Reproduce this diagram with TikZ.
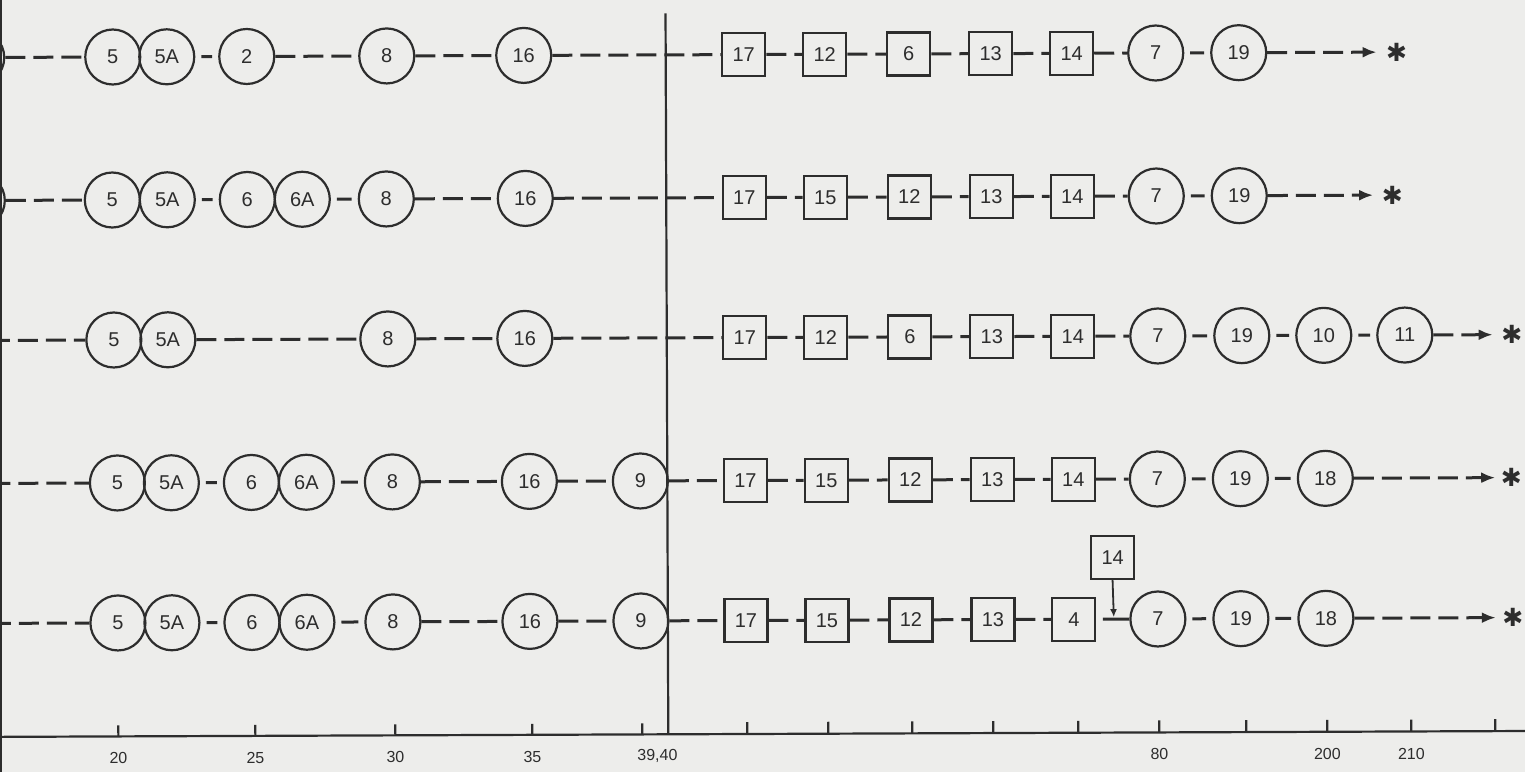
\documentclass[tikz,border=0pt]{standalone}
\usepackage{fontspec}
\setmainfont{Liberation Sans}
\newfontfamily\symfont{DejaVu Sans}
\usetikzlibrary{arrows.meta}
\definecolor{paper}{RGB}{237,237,235}
\definecolor{ink}{RGB}{45,45,45}
\newcommand{\starmark}{{\symfont ✱}}
\begin{document}
\begin{tikzpicture}[x=0.5pt,y=-0.5pt,
  cnode/.style={circle, draw=ink, line width=1.1pt, minimum size=27.5pt, inner sep=0pt,
    text=ink, font=\fontsize{10}{12}\selectfont},
  bnode/.style={rectangle, draw=ink, line width=1.1pt, minimum width=21.5pt, minimum height=21.5pt,
    inner sep=0pt, text=ink, font=\fontsize{10}{12}\selectfont},
  link/.style={draw=ink, line width=1.5pt, dash pattern=on 10pt off 4pt},
  single/.style={draw=ink, line width=1.5pt, shorten <=3pt, shorten >=3pt},
  flow/.style={link, -{Latex[length=7pt,width=5.5pt]}},
  drop/.style={draw=ink, line width=0.9pt, -{Latex[length=4pt,width=3.5pt]}},
  astmark/.style={text=ink, inner sep=0pt, font=\fontsize{12.5}{14}\selectfont},
  axislab/.style={text=ink, font=\fontsize{8}{10}\selectfont},
  rule/.style={draw=ink, line width=1.1pt}]
\fill[paper] (0,0) rectangle (1525,772);
\useasboundingbox (0,0) rectangle (1525,772);
\clip (0,0) rectangle (1525,772);

% frame edge at left
\draw[rule, line width=1.3pt] (1,0) -- (1,772);

\begin{scope}[rotate around={0.22:(762,386)}]
% axis and vertical divider
\coordinate (axL) at (-10,734);
\coordinate (axR) at (1535,734);
\draw[rule] (axL) -- (axR);
\coordinate (vtop) at (667,13);
\coordinate (vbot) at (667,734);
\draw[rule] (vtop) -- (vbot);
\foreach \x/\lab in {117/20, 254/25, 394/30, 531/35}{
  \draw[rule] (\x,734) -- (\x,723);
  \node[axislab] at (\x,756) {\lab};
}
\draw[rule] (641,734) -- (641,723);
\node[axislab] at (656,756) {39,40};
\foreach \x in {746,827,911,992,1077,1245,1494}{
  \draw[rule] (\x,734) -- (\x,722);
}
\foreach \x/\lab in {1158/80, 1326/200, 1410/210}{
  \draw[rule] (\x,734) -- (\x,722);
  \node[axislab] at (\x,756) {\lab};
}

% ---------------- Row 1 ----------------
\node[cnode] (r1p) at (-22,54.5) {};
\node[cnode] (r1a) at (114,54.5) {5};
\node[cnode] (r1b) at (168,54.5) {5A};
\node[cnode] (r1c) at (248,54.5) {2};
\node[cnode] (r1d) at (388,54.5) {8};
\node[cnode] (r1e) at (525,54.5) {16};
\node[bnode] (r1f) at (745,54.5) {17};
\node[bnode] (r1g) at (826,54.5) {12};
\node[bnode] (r1h) at (910,54.5) {6};
\node[bnode] (r1i) at (992,54.5) {13};
\node[bnode] (r1j) at (1073,54.5) {14};
\node[cnode] (r1k) at (1157,54.5) {7};
\node[cnode] (r1l) at (1240,54.5) {19};
\coordinate (r1end) at (1378,54.5);
\node[astmark] (r1x) at (1398,54.5) {\starmark};
\draw[link] (r1p) -- (r1a);
\draw[single] (r1b) -- (r1c);
\draw[link] (r1c) -- (r1d);
\draw[link] (r1d) -- (r1e);
\draw[link] (r1e) -- (r1f);
\draw[link] (r1f) -- (r1g);
\draw[link] (r1g) -- (r1h);
\draw[link] (r1h) -- (r1i);
\draw[link] (r1i) -- (r1j);
\draw[link] (r1j) -- (r1k);
\draw[single] (r1k) -- (r1l);
\draw[flow] (r1l) -- (r1end);

% ---------------- Row 2 ----------------
\node[cnode] (r2p) at (-22,197.5) {};
\node[cnode] (r2a) at (113,197.5) {5};
\node[cnode] (r2b) at (168,197.5) {5A};
\node[cnode] (r2c) at (248,197.5) {6};
\node[cnode] (r2d) at (303,197.5) {6A};
\node[cnode] (r2e) at (387,197.5) {8};
\node[cnode] (r2f) at (526,197.5) {16};
\node[bnode] (r2g) at (745,197.5) {17};
\node[bnode] (r2h) at (826,197.5) {15};
\node[bnode] (r2i) at (910,197.5) {12};
\node[bnode] (r2j) at (992,197.5) {13};
\node[bnode] (r2k) at (1073,197.5) {14};
\node[cnode] (r2l) at (1157,197.5) {7};
\node[cnode] (r2m) at (1240,197.5) {19};
\coordinate (r2end) at (1374,197.5);
\node[astmark] (r2x) at (1393,197.5) {\starmark};
\draw[link] (r2p) -- (r2a);
\draw[single] (r2b) -- (r2c);
\draw[single] (r2d) -- (r2e);
\draw[link] (r2e) -- (r2f);
\draw[link] (r2f) -- (r2g);
\draw[link] (r2g) -- (r2h);
\draw[link] (r2h) -- (r2i);
\draw[link] (r2i) -- (r2j);
\draw[link] (r2j) -- (r2k);
\draw[link] (r2k) -- (r2l);
\draw[single] (r2l) -- (r2m);
\draw[flow] (r2m) -- (r2end);

% ---------------- Row 3 ----------------
\coordinate (r3s) at (-10,337.5);
\node[cnode] (r3a) at (114,337.5) {5};
\node[cnode] (r3b) at (168,337.5) {5A};
\node[cnode] (r3c) at (388,337.5) {8};
\node[cnode] (r3d) at (525,337.5) {16};
\node[bnode] (r3e) at (745,337.5) {17};
\node[bnode] (r3f) at (826,337.5) {12};
\node[bnode] (r3g) at (910,337.5) {6};
\node[bnode] (r3h) at (992,337.5) {13};
\node[bnode] (r3i) at (1073,337.5) {14};
\node[cnode] (r3j) at (1158,337.5) {7};
\node[cnode] (r3k) at (1242,337.5) {19};
\node[cnode] (r3l) at (1324,337.5) {10};
\node[cnode] (r3m) at (1405,337.5) {11};
\coordinate (r3end) at (1493,337.5);
\node[astmark] (r3x) at (1512,337.5) {\starmark};
\draw[link] (r3s) -- (r3a);
\draw[link] (r3b) -- (r3c);
\draw[link] (r3c) -- (r3d);
\draw[link] (r3d) -- (r3e);
\draw[link] (r3e) -- (r3f);
\draw[link] (r3f) -- (r3g);
\draw[link] (r3g) -- (r3h);
\draw[link] (r3h) -- (r3i);
\draw[link] (r3i) -- (r3j);
\draw[single] (r3j) -- (r3k);
\draw[single] (r3k) -- (r3l);
\draw[single] (r3l) -- (r3m);
\draw[flow] (r3m) -- (r3end);

% ---------------- Row 4 ----------------
\coordinate (r4s) at (-10,480.5);
\node[cnode] (r4a) at (117,480.5) {5};
\node[cnode] (r4b) at (171,480.5) {5A};
\node[cnode] (r4c) at (251,480.5) {6};
\node[cnode] (r4d) at (306,480.5) {6A};
\node[cnode] (r4e) at (392,480.5) {8};
\node[cnode] (r4f) at (529,480.5) {16};
\node[cnode] (r4g) at (640,480.5) {9};
\node[bnode] (r4h) at (745,480.5) {17};
\node[bnode] (r4i) at (826,480.5) {15};
\node[bnode] (r4j) at (910,480.5) {12};
\node[bnode] (r4k) at (992,480.5) {13};
\node[bnode] (r4l) at (1073,480.5) {14};
\node[cnode] (r4m) at (1157,480.5) {7};
\node[cnode] (r4n) at (1240,480.5) {19};
\node[cnode] (r4o) at (1325,480.5) {18};
\coordinate (r4end) at (1495,480.5);
\node[astmark] (r4x) at (1511,480.5) {\starmark};
\draw[link] (r4s) -- (r4a);
\draw[single] (r4b) -- (r4c);
\draw[single] (r4d) -- (r4e);
\draw[link] (r4e) -- (r4f);
\draw[link] (r4f) -- (r4g);
\draw[link] (r4g) -- (r4h);
\draw[link] (r4h) -- (r4i);
\draw[link] (r4i) -- (r4j);
\draw[link] (r4j) -- (r4k);
\draw[link] (r4k) -- (r4l);
\draw[link] (r4l) -- (r4m);
\draw[single] (r4m) -- (r4n);
\draw[single] (r4n) -- (r4o);
\draw[flow] (r4o) -- (r4end);

% ---------------- Row 5 ----------------
\coordinate (r5s) at (-10,620.5);
\node[cnode] (r5a) at (117,620.5) {5};
\node[cnode] (r5b) at (171,620.5) {5A};
\node[cnode] (r5c) at (251,620.5) {6};
\node[cnode] (r5d) at (306,620.5) {6A};
\node[cnode] (r5e) at (392,620.5) {8};
\node[cnode] (r5f) at (529,620.5) {16};
\node[cnode] (r5g) at (640,620.5) {9};
\node[bnode] (r5h) at (745,620.5) {17};
\node[bnode] (r5i) at (826,620.5) {15};
\node[bnode] (r5j) at (910,620.5) {12};
\node[bnode] (r5k) at (992,620.5) {13};
\node[bnode] (r5l) at (1073,620.5) {4};
\node[bnode] (r5t) at (1112,559) {14};
\coordinate (r5u) at (1102,620.5);
\coordinate (r5v) at (1113,618.5);
\node[cnode] (r5m) at (1157,620.5) {7};
\node[cnode] (r5n) at (1240,620.5) {19};
\node[cnode] (r5o) at (1325,620.5) {18};
\coordinate (r5end) at (1495,620.5);
\node[astmark] (r5x) at (1512,620.5) {\starmark};
\draw[link] (r5s) -- (r5a);
\draw[single] (r5b) -- (r5c);
\draw[single] (r5d) -- (r5e);
\draw[link] (r5e) -- (r5f);
\draw[link] (r5f) -- (r5g);
\draw[link] (r5g) -- (r5h);
\draw[link] (r5h) -- (r5i);
\draw[link] (r5i) -- (r5j);
\draw[link] (r5j) -- (r5k);
\draw[link] (r5k) -- (r5l);
\draw[draw=ink, line width=1.5pt] (r5u) -- (r5m);
\draw[drop] (r5t.south) -- (r5v);
\draw[single] (r5m) -- (r5n);
\draw[single] (r5n) -- (r5o);
\draw[flow] (r5o) -- (r5end);
\end{scope}
\end{tikzpicture}
\end{document}
